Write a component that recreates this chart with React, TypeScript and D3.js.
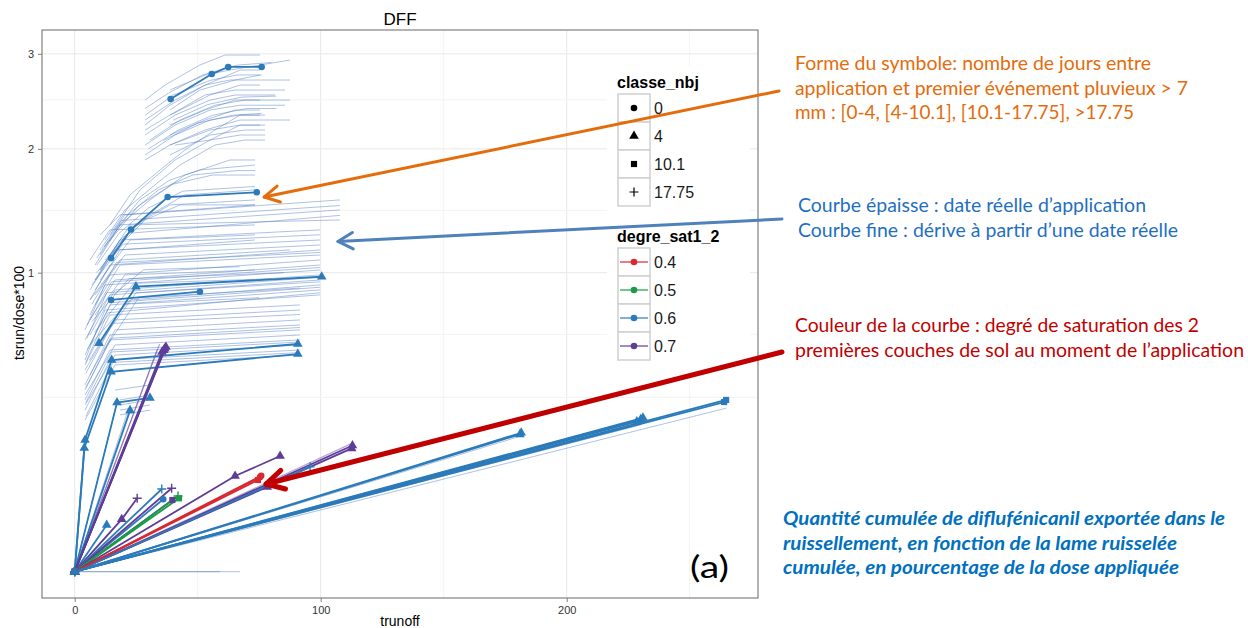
import React, { useRef, useEffect } from "react";
import * as d3 from "d3";

const W = 1248;
const H = 628;

// axis ticks (data units)
const xTicks = [0, 100, 200];
const xMinor = [50, 150, 250];
const yTicks = [1, 2, 3];
const yMinor = [0.34, 0.63, 1.46, 2.49];

// legend categories
const classLabels = ["0", "4", "10.1", "17.75"];
const degLabels = ["0.4", "0.5", "0.6", "0.7"];
const degColors = ["#d62a30", "#1d9a48", "#2b7bba", "#5e3c98"];

// thin curves: derived from a real date (trunoff, tsrun/dose*100)
const thinUpper: [number, number][][] = [
    [[28.6, 2.488], [36.7, 2.649], [50.9, 2.872], [61.1, 2.986], [75.3, 2.986]],
    [[38.7, 2.595], [53.0, 2.759], [63.1, 2.815], [87.5, 2.928]],
    [[28.6, 2.231], [38.7, 2.434], [53.0, 2.649], [63.1, 2.704], [87.5, 2.704]],
    [[28.6, 2.182], [38.7, 2.332], [53.0, 2.542], [65.2, 2.595], [85.5, 2.595]],
    [[28.6, 2.133], [40.8, 2.332], [55.0, 2.488], [65.2, 2.542], [81.4, 2.542]],
    [[38.7, 2.332], [55.0, 2.542], [67.2, 2.649], [75.3, 2.649]],
    [[28.6, 2.036], [40.8, 2.231], [55.0, 2.384], [67.2, 2.434], [85.5, 2.434]],
    [[38.7, 2.231], [53.0, 2.384], [65.2, 2.488], [75.3, 2.488]],
    [[28.6, 1.942], [40.8, 2.133], [55.0, 2.282], [67.2, 2.332], [75.3, 2.332]],
    [[38.7, 2.133], [53.0, 2.282], [65.2, 2.384], [75.3, 2.384]],
    [[38.7, 2.036], [53.0, 2.182], [67.2, 2.282], [87.5, 2.282]],
    [[28.6, 1.896], [38.7, 2.036], [55.0, 2.182], [67.2, 2.231], [75.3, 2.231]],
    [[38.7, 1.942], [55.0, 2.133], [69.2, 2.182], [77.4, 2.182]],
    [[28.6, 2.282], [40.8, 2.488], [53.0, 2.649], [67.2, 2.815], [75.3, 2.815]],
    [[40.8, 2.036], [55.0, 2.084], [67.2, 2.133], [77.4, 2.133]],
    [[38.7, 2.384], [50.9, 2.595], [65.2, 2.704], [75.3, 2.759]],
    [[30.6, 2.084], [42.8, 2.282], [57.0, 2.434], [69.2, 2.488], [87.5, 2.488]],
    [[28.6, 2.4], [38.0, 2.56], [52.0, 2.76], [66.0, 2.87], [80.0, 2.9]],
    [[30.0, 2.0], [42.0, 2.18], [56.0, 2.33], [70.0, 2.4], [82.0, 2.4]],
    [[36.0, 2.08], [50.0, 2.25], [64.0, 2.33], [76.0, 2.35]],
    [[28.6, 2.33], [40.0, 2.54], [55.0, 2.7], [66.0, 2.76], [76.0, 2.76]],
    [[40.0, 2.28], [54.0, 2.44], [68.0, 2.52], [82.0, 2.53]],
];

const thinRise: [number, number][][] = [
    [[14.3, 1.345], [22.5, 1.588], [34.7, 1.805], [44.8, 1.989], [57.0, 2.182], [67.2, 2.332], [77.4, 2.332]],
    [[12.3, 1.231], [20.4, 1.464], [32.6, 1.673], [42.8, 1.85], [57.0, 2.036], [69.2, 2.084], [77.4, 2.084]],
    [[10.3, 1.122], [18.4, 1.345], [30.6, 1.546], [44.8, 1.76], [63.1, 1.896], [73.3, 1.896]],
    [[16.4, 1.307], [26.5, 1.546], [38.7, 1.716], [50.9, 1.805], [73.3, 1.85]],
    [[10.3, 1.018], [18.4, 1.231], [30.6, 1.424], [44.8, 1.588], [73.3, 1.63]],
    [[12.3, 1.087], [24.5, 1.345], [38.7, 1.505], [73.3, 1.546]],
    [[8.3, 0.952], [16.4, 1.158], [28.6, 1.384], [42.8, 1.505], [73.3, 1.505]],
    [[14.3, 1.269], [26.5, 1.63], [40.8, 1.896], [55.0, 2.084], [67.2, 2.231], [77.4, 2.231]],
    [[12.0, 1.18], [22.0, 1.43], [34.0, 1.63], [48.0, 1.76], [66.0, 1.8], [73.3, 1.8]],
    [[14.0, 1.22], [26.0, 1.5], [40.0, 1.68], [56.0, 1.76], [73.3, 1.76]],
    [[9.0, 1.05], [18.0, 1.28], [30.0, 1.48], [44.0, 1.62], [73.3, 1.66]],
];

const thinBand: [number, number][][] = [
    [[10.3, 1.158], [20.4, 1.424], [107.8, 1.546]],
    [[8.3, 1.052], [18.4, 1.345], [107.8, 1.464]],
    [[10.3, 1.018], [22.5, 1.345], [107.8, 1.384]],
    [[8.3, 0.952], [18.4, 1.231], [99.7, 1.307]],
    [[6.2, 0.888], [16.4, 1.158], [99.7, 1.231]],
    [[8.3, 0.857], [20.4, 1.122], [99.7, 1.194]],
    [[6.2, 0.826], [14.3, 1.052], [99.7, 1.158]],
    [[8.3, 0.796], [18.4, 1.052], [99.7, 1.122]],
    [[6.2, 0.737], [14.3, 0.985], [99.7, 1.087]],
    [[6.2, 0.709], [16.4, 0.952], [99.7, 1.052]],
    [[4.2, 0.654], [12.3, 0.92], [99.7, 1.018]],
    [[6.2, 0.627], [16.4, 0.888], [99.7, 0.985]],
    [[4.2, 0.601], [14.3, 0.857], [99.7, 0.952]],
    [[6.2, 0.575], [22.5, 0.826], [99.7, 0.92]],
    [[4.2, 0.525], [14.3, 0.796], [99.7, 0.888]],
    [[4.2, 0.501], [12.3, 0.766], [99.7, 0.857]],
    [[4.2, 0.478], [14.3, 0.737], [91.6, 0.796]],
    [[4.2, 0.455], [16.4, 0.709], [91.6, 0.766]],
    [[6.2, 0.433], [16.4, 0.654], [91.6, 0.709]],
    [[4.2, 0.39], [14.3, 0.627], [91.6, 0.681]],
    [[4.2, 0.369], [14.3, 0.601], [91.6, 0.654]],
    [[4.2, 0.349], [16.4, 0.575], [91.6, 0.627]],
    [[4.2, 0.33], [14.3, 0.55], [91.6, 0.601]],
    [[4.2, 0.311], [16.4, 0.525], [91.6, 0.575]],
    [[4.2, 0.292], [14.3, 0.501], [91.6, 0.55]],
    [[4.2, 0.257], [16.4, 0.478], [91.6, 0.525]],
    [[6.2, 0.826], [18.4, 1.087], [87.5, 1.158]],
    [[8.3, 0.888], [18.4, 1.158], [73.3, 1.231]],
    [[10.3, 0.952], [22.5, 1.231], [73.3, 1.269]],
    [[8.3, 0.737], [20.4, 0.985], [73.3, 1.018]],
    [[6.2, 1.087], [14.3, 1.307], [73.3, 1.345]],
    [[10.3, 1.269], [18.4, 1.424], [73.3, 1.505]],
    [[7.0, 0.8], [17.0, 1.07], [99.7, 1.14]],
    [[5.0, 0.68], [15.0, 0.94], [99.7, 1.035]],
    [[5.0, 0.61], [13.0, 0.87], [99.7, 0.97]],
    [[5.0, 0.55], [15.0, 0.81], [99.7, 0.905]],
    [[4.5, 0.49], [13.5, 0.75], [99.7, 0.87]],
    [[4.5, 0.44], [15.5, 0.69], [91.6, 0.74]],
    [[4.5, 0.38], [15.0, 0.61], [91.6, 0.667]],
    [[4.5, 0.32], [15.0, 0.54], [91.6, 0.59]],
    [[4.5, 0.27], [15.5, 0.49], [91.6, 0.537]],
    [[9.0, 1.0], [21.5, 1.28], [107.8, 1.42]],
    [[9.0, 1.1], [19.0, 1.38], [107.8, 1.5]],
    [[7.0, 0.92], [19.5, 1.2], [99.7, 1.27]],
    [[11.0, 0.6], [25.0, 0.87], [99.7, 0.94]],
    [[12.0, 0.55], [26.0, 0.84], [91.6, 0.9]],
    [[7.0, 0.7], [22.0, 0.96], [85.0, 1.0]],
    [[8.0, 0.64], [24.0, 0.93], [80.0, 0.96]],
    [[16.0, 0.86], [28.0, 1.02], [67.0, 1.04]],
    [[6.0, 0.5], [20.0, 0.8], [75.0, 0.84]],
    [[16.4, 0.369], [30.6, 0.39]],
    [[18.4, 0.33], [30.6, 0.349]],
    [[18.4, 0.311], [30.6, 0.33]],
    [[18.4, 0.292], [30.6, 0.311]],
    [[18.4, 0.275], [30.6, 0.292]],
];

const thinFan: [number, number][][] = [
    [[0, 0], [264.8, 0.299]],
    [[0, 0], [230.1, 0.241]],
    [[0, 0], [181.0, 0.205]],
    [[0, 0], [67.2, 0]],
    [[0, 0], [59.1, 0]],
    [[0, 0], [17.2, 0.32]],
    [[0, 0], [22.0, 0.3]],
    [[0, 0], [4.2, 0.194]],
];

const thinPurple: [number, number][][] = [
    [[0, 0], [33.5, 0.55]],
    [[0, 0], [34.5, 0.58]],
    [[0, 0], [112.0, 0.182]],
];

// thick curves: real application dates
const thickRuns: [number, number][][] = [
    [[39.0, 2.5], [55.7, 2.77], [62.4, 2.85], [76.0, 2.85]],
    [[14.8, 1.1], [22.9, 1.31], [37.8, 1.57], [74.0, 1.61]],
    [[14.8, 0.826], [50.9, 0.877]],
    [[9.9, 0.584], [24.9, 0.909], [100.4, 0.973]],
    [[0, 0], [4.2, 0.194], [15.0, 0.501], [90.7, 0.58]],
    [[0, 0], [3.9, 0.171], [14.8, 0.447], [90.7, 0.53]],
    [[0, 0], [17.2, 0.32], [30.6, 0.338]],
    [[0, 0], [22.5, 0.291]],
    [[0, 0], [37.1, 0.565]],
    [[0, 0], [35.5, 0.54]],
    [[0, 0], [13.0, 0.0244]],
    [[0, 0], [19.1, 0.0307], [25.4, 0.0603]],
    [[0, 0], [36.0, 0.0586]],
    [[0, 0], [35.4, 0.0765]],
    [[0, 0], [39.4, 0.0778]],
    [[0, 0], [39.7, 0.0575]],
    [[0, 0], [42.4, 0.0603]],
    [[0, 0], [42.0, 0.064]],
    [[0, 0], [65.2, 0.1024], [83.5, 0.1497]],
    [[0, 0], [78.3, 0.0803]],
    [[0, 0], [75.3, 0.0997]],
    [[0, 0], [74.5, 0.094]],
    [[0, 0], [112.6, 0.17]],
    [[0, 0], [112.9, 0.178]],
    [[0, 0], [95.7, 0.123]],
    [[0, 0], [181.0, 0.211]],
    [[0, 0], [230.1, 0.26]],
    [[0, 0], [228.5, 0.252]],
    [[0, 0], [264.8, 0.33]],
    [[0, 0], [264.0, 0.322]],
    [[0, 0], [75.8, 0.103]],
    [[0, 0], [36.6, 0.556]],
    [[0, 0], [36.2, 0.549]],
    [[0, 0], [181.5, 0.216]],
    [[0, 0], [231.0, 0.265]],
];
// index into degLabels
const thickDeg = [
    2, 2, 2, 2, 2, 2, 2, 2, 3, 3, 2, 3, 2, 2, 3, 3, 1, 1, 3, 3, 0, 0, 3, 3, 2, 2, 2, 2, 2, 2,
    0, 3, 3, 2, 2,
];
// index into classLabels, one per point
const thickCls: number[][] = [
    [0, 0, 0, 0], [0, 0, 0, 0], [0, 0], [1, 1, 1], [1, 1, 1, 1], [1, 1, 1, 1], [1, 1, 1], [1, 1],
    [1, 1], [1, 1], [1, 1], [1, 1, 3], [0, 0], [3, 3], [3, 3], [2, 2], [2, 2], [3, 3],
    [1, 1, 1], [1, 1], [0, 0], [2, 2], [1, 1], [1, 1], [3, 3], [1, 1], [1, 1], [1, 1], [2, 2], [2, 2],
    [0, 0], [1, 1], [1, 1], [1, 1], [1, 1],
];

// callouts
const orangeText = [
    "Forme du symbole: nombre de jours entre",
    "application et premier événement pluvieux > 7",
    "mm : [0-4, [4-10.1], [10.1-17.75], >17.75",
];
const orangeWidths = [356, 393, 339];
const blueText = [
    "Courbe épaisse : date réelle d’application",
    "Courbe fine : dérive à partir d’une date réelle",
];
const blueWidths = [348, 380];
const redText = [
    "Couleur de la courbe : degré de saturation des 2",
    "premières couches de sol au moment de l’application",
];
const redWidths = [404, 449];
const noteText = [
    "Quantité cumulée de diflufénicanil exportée dans le",
    "ruissellement, en fonction de la lame ruisselée",
    "cumulée, en pourcentage de la dose appliquée",
];
const noteWidths = [442, 394, 396];
// arrow tips in data units
const orangeTip: [number, number] = [77.0, 1.57];
const blueTip: [number, number] = [107.0, 1.22];
const redTip: [number, number] = [77.8, 0.086];

export const DffChart = () => {
    const svgRef = useRef<SVGSVGElement>(null);

    useEffect(() => {
        if (!svgRef.current) return;
        const svg = d3.select(svgRef.current);
        svg.selectAll("*").remove();

        const panel = { left: 42, right: 758, top: 30, bottom: 598 };
        const x = d3.scaleLinear().domain([0, 100]).range([74.7, 320.7]);
        const y = d3.scaleSqrt().domain([0, 1]).range([571.7, 272.7]);
        const font = "'Liberation Sans', Arial, sans-serif";
        const calibri = "Lato, 'Open Sans', sans-serif";

        svg.append("rect").attr("width", W).attr("height", H).attr("fill", "#fff");

        svg.append("defs")
            .append("clipPath")
            .attr("id", "panel-clip")
            .append("rect")
            .attr("x", panel.left)
            .attr("y", panel.top)
            .attr("width", panel.right - panel.left)
            .attr("height", panel.bottom - panel.top);

        // grid
        const grid = svg.append("g");
        grid.selectAll(".vmin")
            .data(xMinor)
            .enter()
            .append("line")
            .attr("x1", (d) => x(d))
            .attr("x2", (d) => x(d))
            .attr("y1", panel.top)
            .attr("y2", panel.bottom)
            .attr("stroke", "#f3f3f3");
        grid.selectAll(".vmaj")
            .data(xTicks)
            .enter()
            .append("line")
            .attr("x1", (d) => x(d))
            .attr("x2", (d) => x(d))
            .attr("y1", panel.top)
            .attr("y2", panel.bottom)
            .attr("stroke", "#e8e8e8");
        grid.selectAll(".hmin")
            .data(yMinor)
            .enter()
            .append("line")
            .attr("x1", panel.left)
            .attr("x2", panel.right)
            .attr("y1", (d) => y(d))
            .attr("y2", (d) => y(d))
            .attr("stroke", "#f3f3f3");
        grid.selectAll(".hmaj")
            .data(yTicks)
            .enter()
            .append("line")
            .attr("x1", panel.left)
            .attr("x2", panel.right)
            .attr("y1", (d) => y(d))
            .attr("y2", (d) => y(d))
            .attr("stroke", "#e8e8e8");

        const line = d3
            .line<[number, number]>()
            .x((d) => x(d[0]))
            .y((d) => y(d[1]));

        const plot = svg.append("g").attr("clip-path", "url(#panel-clip)");

        const thin = [...thinUpper, ...thinRise, ...thinBand, ...thinFan];
        plot.selectAll(".thin")
            .data(thin)
            .enter()
            .append("path")
            .attr("d", (d) => line(d))
            .attr("fill", "none")
            .attr("stroke", "#4a78c0")
            .attr("stroke-opacity", 0.45)
            .attr("stroke-width", 1);
        plot.selectAll(".thinp")
            .data(thinPurple)
            .enter()
            .append("path")
            .attr("d", (d) => line(d))
            .attr("fill", "none")
            .attr("stroke", degColors[3])
            .attr("stroke-opacity", 0.45)
            .attr("stroke-width", 1.2);

        plot.selectAll(".thick")
            .data(thickRuns)
            .enter()
            .append("path")
            .attr("d", (d) => line(d))
            .attr("fill", "none")
            .attr("stroke", (d, i) => degColors[thickDeg[i]])
            .attr("stroke-width", 1.8);

        const shapePath = (c: number) => {
            if (c === 0) return d3.symbol(d3.symbolCircle, 34)();
            if (c === 1) return d3.symbol(d3.symbolTriangle, 40)();
            if (c === 2) return d3.symbol(d3.symbolSquare, 38)();
            return "M-4.5,0H4.5M0,-4.5V4.5";
        };

        const pts = thickRuns.flatMap((run, i) =>
            run.map((p, j) => ({ p, c: thickCls[i][j], col: degColors[thickDeg[i]] }))
        );
        plot.selectAll(".pt")
            .data(pts)
            .enter()
            .append("path")
            .attr("transform", (d) => `translate(${x(d.p[0])},${y(d.p[1])})`)
            .attr("d", (d) => shapePath(d.c) || "")
            .attr("fill", (d) => (d.c === 3 ? "none" : d.col))
            .attr("stroke", (d) => (d.c === 3 ? d.col : "none"))
            .attr("stroke-width", 1.4);

        // legends (inside panel)
        const lg = svg.append("g");
        lg.append("rect")
            .attr("x", 607)
            .attr("y", 66)
            .attr("width", 143)
            .attr("height", 306)
            .attr("fill", "#fff");
        lg.append("text")
            .attr("x", 617)
            .attr("y", 88)
            .attr("font-family", font)
            .attr("font-weight", "bold")
            .attr("font-size", 16)
            .text("classe_nbj");
        const k1 = lg.selectAll(".k1").data(classLabels).enter().append("g")
            .attr("transform", (d, i) => `translate(618,${94 + i * 28})`);
        k1.append("rect")
            .attr("width", 32)
            .attr("height", 28)
            .attr("fill", "#fff")
            .attr("stroke", "#d0d0d0")
            .attr("stroke-width", 1.5);
        k1.append("path")
            .attr("transform", "translate(16,14)")
            .attr("d", (d, i) => shapePath(i) || "")
            .attr("fill", (d, i) => (i === 3 ? "none" : "#000"))
            .attr("stroke", (d, i) => (i === 3 ? "#000" : "none"))
            .attr("stroke-width", 1.2);
        k1.append("text")
            .attr("x", 36)
            .attr("y", 20)
            .attr("font-family", font)
            .attr("font-size", 16)
            .attr("fill", "#1a1a1a")
            .text((d) => d);

        lg.append("text")
            .attr("x", 617)
            .attr("y", 242)
            .attr("font-family", font)
            .attr("font-weight", "bold")
            .attr("font-size", 16)
            .text("degre_sat1_2");
        const k2 = lg.selectAll(".k2").data(degLabels).enter().append("g")
            .attr("transform", (d, i) => `translate(618,${248 + i * 28})`);
        k2.append("rect")
            .attr("width", 32)
            .attr("height", 28)
            .attr("fill", "#fff")
            .attr("stroke", "#d0d0d0")
            .attr("stroke-width", 1.5);
        k2.append("line")
            .attr("x1", 2)
            .attr("x2", 30)
            .attr("y1", 14)
            .attr("y2", 14)
            .attr("stroke", (d, i) => degColors[i])
            .attr("stroke-width", 1.2);
        k2.append("circle")
            .attr("cx", 16)
            .attr("cy", 14)
            .attr("r", 3.3)
            .attr("fill", (d, i) => degColors[i]);
        k2.append("text")
            .attr("x", 36)
            .attr("y", 20)
            .attr("font-family", font)
            .attr("font-size", 16)
            .attr("fill", "#1a1a1a")
            .text((d) => d);

        // panel border
        svg.append("rect")
            .attr("x", panel.left)
            .attr("y", panel.top)
            .attr("width", panel.right - panel.left)
            .attr("height", panel.bottom - panel.top)
            .attr("fill", "none")
            .attr("stroke", "#808080")
            .attr("stroke-width", 1.2);

        // axes
        const xa = svg.append("g").attr("transform", `translate(0,${panel.bottom})`)
            .call(d3.axisBottom(x).tickValues(xTicks).tickFormat(d3.format("d")).tickSize(4).tickPadding(4));
        const ya = svg.append("g").attr("transform", `translate(${panel.left},0)`)
            .call(d3.axisLeft(y).tickValues(yTicks).tickFormat(d3.format("d")).tickSize(4).tickPadding(4));
        [xa, ya].forEach((a) => {
            a.select(".domain").remove();
            a.selectAll("line").attr("stroke", "#808080");
            a.selectAll("text")
                .attr("font-family", font)
                .attr("font-size", 11)
                .attr("fill", "#333");
        });

        svg.append("text")
            .attr("x", 400)
            .attr("y", 626)
            .attr("text-anchor", "middle")
            .attr("font-family", font)
            .attr("font-size", 14)
            .text("trunoff");
        svg.append("text")
            .attr("transform", "translate(23.5,313) rotate(-90)")
            .attr("text-anchor", "middle")
            .attr("font-family", font)
            .attr("font-size", 14)
            .text("tsrun/dose*100");
        svg.append("text")
            .attr("x", 400)
            .attr("y", 25)
            .attr("text-anchor", "middle")
            .attr("font-family", font)
            .attr("font-size", 17)
            .text("DFF");

        svg.append("text")
            .attr("x", 690)
            .attr("y", 578)
            .attr("font-family", calibri)
            .attr("font-size", 31)
            .attr("textLength", 39)
            .attr("lengthAdjust", "spacingAndGlyphs")
            .text("(a)");

        // arrows
        const arrow = (x1: number, y1: number, tip: [number, number], color: string, w: number, head: number) => {
            const tx = x(tip[0]);
            const ty = y(tip[1]);
            const ang = Math.atan2(y1 - ty, x1 - tx);
            const g = svg.append("g")
                .attr("stroke", color)
                .attr("stroke-width", w)
                .attr("fill", "none")
                .attr("stroke-linecap", "round")
                .attr("stroke-linejoin", "round");
            g.append("line").attr("x1", x1).attr("y1", y1).attr("x2", tx).attr("y2", ty);
            const a1 = ang + 0.5;
            const a2 = ang - 0.5;
            g.append("path").attr(
                "d",
                `M${tx + head * Math.cos(a1)},${ty + head * Math.sin(a1)}L${tx},${ty}L${tx + head * Math.cos(a2)},${ty + head * Math.sin(a2)}`
            );
        };
        arrow(779, 91, orangeTip, "#e46c0a", 3, 17);
        arrow(782, 219, blueTip, "#4f81bd", 3, 17);
        arrow(782, 352, redTip, "#c00000", 5, 20);

        const block = (lines: string[], widths: number[], x0: number, y0: number, color: string, italic: boolean) => {
            svg.selectAll(null)
                .data(lines)
                .enter()
                .append("text")
                .attr("x", x0)
                .attr("y", (d, i) => y0 + i * 24.7)
                .attr("font-family", calibri)
                .attr("font-size", 19)
                .attr("font-style", italic ? "italic" : "normal")
                .attr("font-weight", italic ? "bold" : "normal")
                .attr("fill", color)
                .attr("textLength", (d, i) => widths[i])
                .attr("lengthAdjust", "spacingAndGlyphs")
                .text((d) => d);
        };
        block(orangeText, orangeWidths, 795, 70, "#e46c0a", false);
        block(blueText, blueWidths, 798, 212, "#1f6fbf", false);
        block(redText, redWidths, 795, 332, "#c00000", false);
        block(noteText, noteWidths, 783, 525, "#0070c0", true);
    }, []);

    return (
        <svg
            ref={svgRef}
            width={W}
            height={H}
            style={{ position: "absolute", left: 0, top: 0, display: "block" }}
        />
    );
};

export default function App() {
    return <DffChart />;
}
